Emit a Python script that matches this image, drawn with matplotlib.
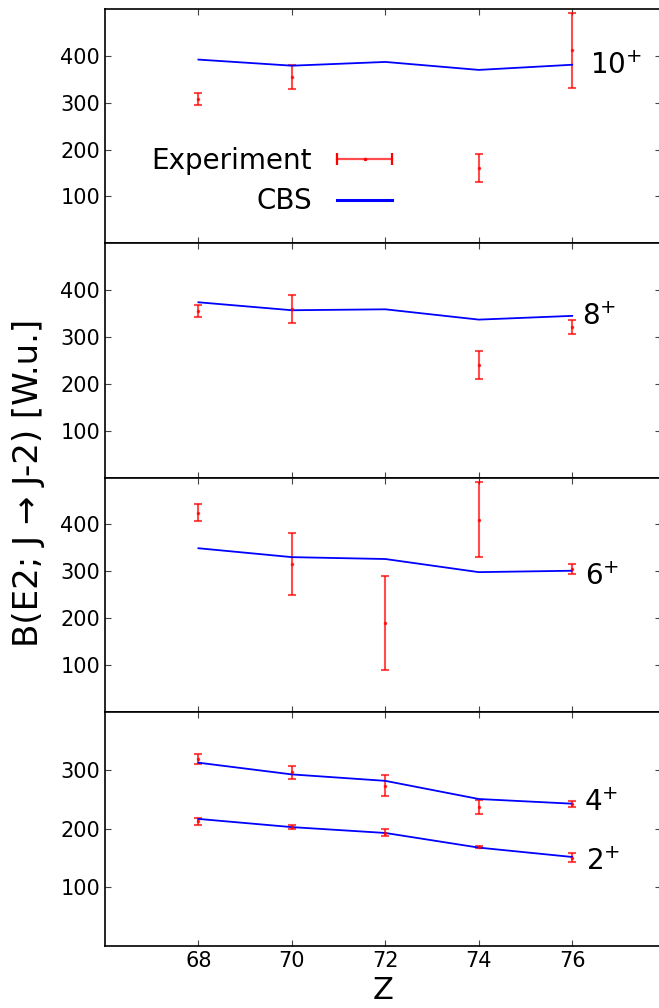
import matplotlib
matplotlib.use("Agg")
import matplotlib.pyplot as plt
from matplotlib.lines import Line2D
from matplotlib.legend_handler import HandlerBase

# Proton number of the isotopes
Z = [68, 70, 72, 74, 76]

# CBS model predictions, B(E2; J -> J-2) in W.u.
cbs_10 = [392, 379, 387, 370, 381]
cbs_8 = [374, 357, 359, 337, 345]
cbs_6 = [349, 330, 326, 298, 301]
cbs_4 = [313, 293, 282, 251, 243]
cbs_2 = [217, 203, 193, 168, 152]

# Measured values and uncertainties
exp10_z = [68, 70, 74, 76]
exp10_val = [308, 355, 160, 412]
exp10_err = [12, 25, 30, 80]

exp8_z = [68, 70, 74, 76]
exp8_val = [355, 360, 240, 322]
exp8_err = [13, 30, 30, 15]

exp6_z = [68, 70, 72, 74, 76]
exp6_val = [425, 316, 190, 410, 305]
exp6_err = [18, 66, 100, 80, 10]

exp4_z = [68, 70, 72, 74, 76]
exp4_val = [319, 297, 274, 238, 243]
exp4_err = [9, 11, 18, 12, 5]

exp2_z = [68, 70, 72, 74, 76]
exp2_val = [213, 203, 193, 169, 151]
exp2_err = [6, 4, 6, 2, 7]

z_ticks = [68, 70, 72, 74, 76]

# Spin labels and their anchor points (data coordinates)
state_labels = [r"$\mathregular{10^{+}}$", r"$\mathregular{8^{+}}$",
                r"$\mathregular{6^{+}}$", r"$\mathregular{4^{+}}$",
                r"$\mathregular{2^{+}}$"]
label_x = [76.38, 76.2, 76.27, 76.25, 76.3]
label_y = [378, 342, 287, 245, 144]


class HorizontalErrorHandler(HandlerBase):
    """Legend key drawn as a horizontal error bar with caps."""

    def create_artists(self, legend, orig_handle, xdescent, ydescent,
                       width, height, fontsize, trans):
        y = height / 2 - ydescent
        x0, x1 = -xdescent, width - xdescent
        bar = Line2D([x0, x1], [y, y], color="red", alpha=0.7, lw=1.6)
        caps = Line2D([x0, x1], [y, y], ls="none", marker="|", ms=8,
                      mew=1.6, color="red")
        mid = Line2D([(x0 + x1) / 2], [y], ls="none", marker=".", ms=3,
                     color="red")
        for a in (bar, caps, mid):
            a.set_transform(trans)
        return [bar, caps, mid]


W, H = 659, 1008
fig = plt.figure(figsize=(W / 100, H / 100), dpi=100)
left, right = 105 / W, 661 / W
top, bottom = 1 - 9 / H, 1 - 946 / H
gs = fig.add_gridspec(4, 1, left=left, right=right, top=top, bottom=bottom,
                      hspace=0)
axes = [fig.add_subplot(gs[i]) for i in range(4)]

eb_kw = dict(fmt=".", color="red", ms=3, elinewidth=1.5, capsize=3,
             capthick=1.5, alpha=0.7)
line_kw = dict(color="blue", lw=1.3)

panels = [
    (axes[0], [(cbs_10, exp10_z, exp10_val, exp10_err, 0)],
     (0, 500), [100, 200, 300, 400]),
    (axes[1], [(cbs_8, exp8_z, exp8_val, exp8_err, 1)],
     (0, 500), [100, 200, 300, 400]),
    (axes[2], [(cbs_6, exp6_z, exp6_val, exp6_err, 2)],
     (0, 500), [100, 200, 300, 400]),
    (axes[3], [(cbs_4, exp4_z, exp4_val, exp4_err, 3),
               (cbs_2, exp2_z, exp2_val, exp2_err, 4)],
     (0, 400), [100, 200, 300]),
]

for ax, series, ylim, yticks in panels:
    for cbs, ez, ev, ee, k in series:
        ax.errorbar(ez, ev, yerr=ee, **eb_kw)
        ax.plot(Z, cbs, **line_kw)
        ax.text(label_x[k], label_y[k], state_labels[k], ha="left",
                va="center", fontsize=20)
    ax.set_xlim(66, 77.9)
    ax.set_ylim(*ylim)
    ax.set_yticks(yticks)
    ax.set_xticks(z_ticks)
    ax.tick_params(direction="in", top=True, right=True, length=4,
                   width=0.8, color="#444444", labelsize=15)
    if ax is not axes[-1]:
        ax.tick_params(labelbottom=False)
    for s in ax.spines.values():
        s.set_linewidth(1.2)

axes[-1].set_xlabel("Z", fontsize=22, labelpad=4)
fig.text(29 / W, 1 - 483 / H, "B(E2; J → J-2) [W.u.]", rotation=90,
         ha="center", va="center", fontsize=24.5)

# legend in the top panel
h_exp = Line2D([], [], color="red")
h_cbs = Line2D([], [], color="blue", lw=2.2)
axes[0].legend([h_exp, h_cbs], ["Experiment", "CBS"], loc="center",
               bbox_to_anchor=(0.30, 0.265), frameon=False, markerfirst=False,
               fontsize=20, handlelength=2.0, handletextpad=0.9,
               labelspacing=0.45,
               handler_map={h_exp: HorizontalErrorHandler()})

fig.savefig("out.png", dpi=100)
